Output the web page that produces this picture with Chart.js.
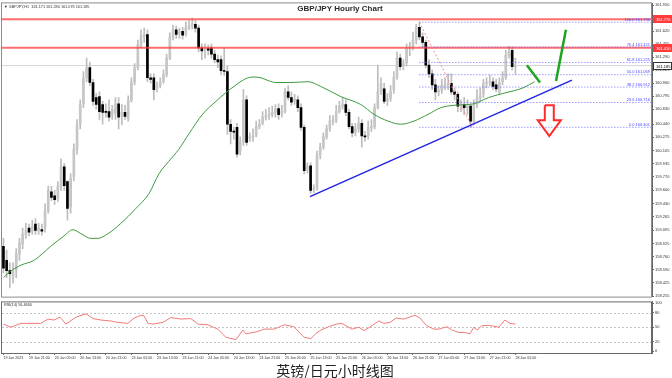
<!DOCTYPE html>
<html>
<head>
<meta charset="utf-8">
<script src="https://cdn.jsdelivr.net/npm/chart.js@4.4.0/dist/chart.umd.min.js"></script>
<style>
  body { margin:0; background:#fff; width:672px; height:378px; overflow:hidden; position:relative; }
  #mainBox { position:absolute; left:0; top:0; width:672px; height:300px; }
  #rsiBox { position:absolute; left:0; top:298px; width:672px; height:64px; }
  #caption { position:absolute; left:0; width:670px; top:360px; text-align:center; font:14px "Noto Sans CJK SC"; color:#222; }
</style>
</head>
<body>
<div id="mainBox"><canvas id="mainChart" width="672" height="300"></canvas></div>
<div id="rsiBox"><canvas id="rsiChart" width="672" height="64"></canvas></div>
<div id="caption">英镑/日元小时线图</div>
<script>
// hourly candles, one per bar index
const opens = [158.89,158.71,158.58,158.51,158.59,158.79,158.92,159.04,159.12,159.08,159.17,159.09,159.10,159.12,159.34,159.58,159.53,159.49,159.65,159.90,
  159.71,159.39,159.77,160.12,160.44,160.70,161.03,161.16,160.97,160.78,160.79,160.69,160.60,160.60,160.56,160.58,160.70,160.54,160.59,160.51,
  160.75,160.98,161.16,161.45,161.55,161.58,161.03,161.03,160.90,160.93,160.98,161.07,161.28,161.55,161.64,161.60,161.62,161.58,161.67,161.69,
  161.71,161.66,161.41,161.38,161.40,161.41,161.33,161.26,161.26,161.12,161.11,160.44,160.35,160.40,160.10,160.22,160.75,160.26,160.28,160.30,
  160.41,160.45,160.53,160.55,160.56,160.59,160.64,160.58,160.60,160.85,160.78,160.74,160.75,160.65,160.40,159.87,159.91,159.61,159.62,160.05,
  160.15,160.28,160.38,160.48,160.49,160.60,160.67,160.69,160.59,160.41,160.34,160.38,160.45,160.29,160.29,160.40,160.41,160.65,160.85,160.89,
  160.74,160.77,160.88,161.03,161.28,161.18,161.22,161.40,161.43,161.51,161.67,161.55,161.48,161.19,161.08,160.94,160.85,160.87,160.93,160.94,
  160.96,160.85,160.82,160.68,160.69,160.65,160.67,160.48,160.69,160.78,160.82,160.96,160.97,160.98,160.94,160.85,160.98,161.03,161.31,161.38,
  161.171];
const highs = [158.99,158.84,158.68,158.68,158.86,158.99,159.12,159.18,159.17,159.22,159.24,159.18,159.17,159.43,159.65,159.65,159.60,159.71,160.00,159.94,
  159.72,159.81,160.19,160.50,160.75,161.11,161.28,161.23,161.01,160.83,160.85,160.73,160.70,160.75,160.68,160.78,160.78,160.69,160.68,160.80,
  161.03,161.21,161.51,161.64,161.66,161.64,161.08,161.08,160.98,161.03,161.13,161.33,161.60,161.70,161.69,161.66,161.67,161.74,161.76,161.79,
  161.76,161.70,161.46,161.46,161.45,161.46,161.38,161.32,161.31,161.41,161.18,160.50,160.40,160.45,160.28,160.88,160.80,160.33,160.38,160.48,
  160.50,160.60,160.63,160.65,160.67,160.69,160.70,160.68,160.90,160.93,160.85,160.82,160.80,160.70,160.43,159.95,159.95,159.67,160.10,160.20,
  160.33,160.43,160.55,160.55,160.68,160.73,160.78,160.75,160.63,160.45,160.45,160.53,160.50,160.35,160.48,160.50,160.70,161.19,161.03,160.96,
  160.83,160.93,161.11,161.36,161.33,161.26,161.46,161.48,161.61,161.71,161.74,161.60,161.51,161.26,161.13,161.01,160.93,161.01,161.03,161.08,
  161.08,160.90,160.85,160.75,160.78,160.75,160.70,160.75,160.88,160.90,161.01,161.03,161.06,161.03,161.01,161.03,161.11,161.38,161.43,161.42,
  161.280];
const lows = [158.55,158.49,158.36,158.42,158.49,158.71,158.86,158.99,159.02,159.04,159.04,159.04,159.03,159.07,159.31,159.47,159.42,159.46,159.60,159.60,
  159.22,159.31,159.72,160.06,160.38,160.65,160.98,160.93,160.68,160.63,160.50,160.44,160.53,160.48,160.50,160.50,160.38,160.43,160.50,160.48,
  160.72,160.94,161.13,161.41,161.48,160.98,160.96,160.75,160.85,160.90,160.96,161.04,161.26,161.51,161.53,161.53,161.52,161.56,161.64,161.65,
  161.61,161.36,161.26,161.28,161.32,161.28,161.22,161.16,161.07,161.06,160.31,160.19,160.25,160.02,160.05,160.17,160.17,160.22,160.22,160.28,
  160.38,160.43,160.49,160.50,160.53,160.53,160.50,160.53,160.58,160.75,160.68,160.69,160.60,160.36,159.81,159.82,159.56,159.57,159.60,160.00,
  160.12,160.25,160.35,160.43,160.46,160.58,160.63,160.55,160.38,160.28,160.29,160.34,160.15,160.22,160.25,160.35,160.38,160.63,160.82,160.70,
  160.68,160.73,160.83,161.01,161.13,161.13,161.18,161.31,161.38,161.46,161.51,161.43,161.16,161.03,160.88,160.75,160.80,160.83,160.88,160.88,
  160.82,160.75,160.60,160.60,160.56,160.56,160.40,160.43,160.65,160.73,160.78,160.90,160.93,160.88,160.85,160.82,160.94,161.01,161.28,161.13,
  161.076];
const closes = [158.61,158.58,158.54,158.59,158.80,158.93,159.04,159.09,159.07,159.14,159.09,159.12,159.08,159.34,159.60,159.51,159.48,159.65,159.90,159.66,
  159.37,159.75,160.12,160.43,160.69,161.03,161.16,160.97,160.73,160.69,160.60,160.59,160.59,160.53,160.63,160.70,160.53,160.59,160.54,160.74,
  160.98,161.16,161.45,161.56,161.58,161.03,161.01,160.88,160.93,160.97,161.07,161.28,161.55,161.64,161.58,161.61,161.57,161.67,161.69,161.72,
  161.66,161.41,161.37,161.40,161.38,161.33,161.26,161.23,161.12,161.11,160.44,160.35,160.34,160.06,160.22,160.75,160.21,160.28,160.29,160.41,
  160.44,160.53,160.55,160.56,160.59,160.63,160.56,160.60,160.85,160.78,160.72,160.74,160.65,160.40,159.85,159.90,159.60,159.62,160.05,160.15,
  160.28,160.38,160.48,160.49,160.60,160.67,160.69,160.59,160.41,160.33,160.38,160.45,160.29,160.28,160.40,160.41,160.65,160.85,160.96,160.73,
  160.77,160.85,161.03,161.28,161.17,161.21,161.40,161.42,161.51,161.67,161.55,161.48,161.19,161.08,160.94,160.85,160.87,160.93,160.94,160.96,
  160.85,160.82,160.67,160.69,160.65,160.67,160.48,160.69,160.78,160.80,160.96,160.97,160.98,160.92,160.89,160.97,161.03,161.32,161.36,161.17,
  161.185];

// moving average read at these bar positions
const maIdx = [0,2.3,5.5,9.5,14.8,18.9,21.7,24.2,27.3,29.5,32.7,36.7,41.4,45.5,48.6,51.7,54.8,58,62.3,66.4,69.5,72.7,75.8,78,80.5,83,85.2,89.8,95.2,99.2,105.5,111.7,115.8,120.2,124.2,128.3,132.7,136.7,140.8,147,151.7,157,162.3,166];
const maVal = [158.49,158.575,158.65,158.71,158.89,159.02,159.10,159.05,158.99,158.99,159.05,159.18,159.37,159.56,159.81,159.97,160.12,160.32,160.57,160.73,160.84,160.94,161.02,161.04,161.03,160.99,160.97,160.97,160.98,160.92,160.79,160.69,160.565,160.48,160.44,160.48,160.565,160.65,160.68,160.70,160.78,160.84,160.90,160.98];

// RSI(14)
const rsiIdx = [0,2.3,5.5,8.6,11.7,13.9,15.8,17.7,19.5,22.7,25.8,28,30.5,33.6,35.8,38.9,40.8,43,43.9,45.2,46.7,49.8,52.3,55.5,58.6,60.8,63.9,67,69.5,72.7,74.8,75.8,79.5,81.4,84.5,86.1,87.7,90.8,93.9,96.1,97.7,99.2,102.3,104.2,105.8,108.9,111.1,112.7,114.5,117.3,118.9,120.8,122.7,125.2,128.6,130.2,132.3,134.5,136.1,138.6,140.2,142.3,144.2,145.8,147,148,149.5,151.7,154.8,156.7,158.3,160];
const rsiVal = [56.5,50,58,58,58,67,65,71,56.5,71,78,68,65,63,60,58,69,75,74,58,56.5,60,70,67,68,56.5,55,46,29,24,44,36,41,46,46,50,55,51,29,26,37,44,53,56.5,58,46,50,43,50,63,58,60,69,67,75,69,53,46,46,51,44,39,39,36,50,44,53,54,50,65,58,56.5];
const rsiTicks = [0,20,50,80,100];
const rsiLevels = [20,50,80];

const priceTicks = [161.950,161.785,161.620,161.455,161.290,161.125,160.960,160.795,160.630,160.440,160.275,160.105,159.935,159.770,159.600,159.430,159.265,159.095,158.925,158.760,158.590,158.425,158.255];
const xTickLabels = ["19 Jan 2023","19 Jan 21:00","20 Jan 05:00","20 Jan 13:00","20 Jan 21:00","23 Jan 05:00","23 Jan 13:00","23 Jan 21:00","24 Jan 05:00","24 Jan 13:00","24 Jan 21:00","25 Jan 05:00","25 Jan 13:00","25 Jan 21:00","26 Jan 05:00","26 Jan 13:00","26 Jan 21:00","27 Jan 05:00","27 Jan 13:00","27 Jan 21:00","28 Jan 05:00"];
const barsPerLabel = 8;

// drawn objects (bar index / price)
const redLevels = [161.775, 161.410];
const bidPrice = 161.185;
const fibNames = ["0.0","23.6","38.2","50.0","61.8","76.4","100.0"];
const fibPrices = [160.401,160.716,160.912,161.069,161.225,161.421,161.736];
const fibFrom = 130, fibTo = 146.5;
const trendIdx = [95.8, 177.7], trendVal = [159.52, 161.00];
const greenDownIdx = [163.6, 167.7], greenDownVal = [161.19, 160.97];
const greenUpIdx = [172.7, 175.8], greenUpVal = [160.99, 161.64];
const redArrowIdx = [169.2,172.0,172.0,174.2,170.6,167.0,169.2,169.2];
const redArrowVal = [160.68,160.68,160.49,160.49,160.29,160.49,160.49,160.68];

const xMin = -0.45, xMax = 202.7;

Chart.defaults.font.family = '"Liberation Sans", Arial, sans-serif';
Chart.defaults.animation = false;

function pts(xs, ys) { return xs.map((x, k) => ({x: x, y: ys[k]})); }
function seg(color, width, data, dash, order) {
  return { type: 'line', data: data, borderColor: color, borderWidth: width, borderDash: dash || [],
    pointRadius: 0, tension: 0, order: order || 2 };
}

const mainDecor = {
  id: 'mainDecor',
  afterDraw(chart) {
    const {ctx, chartArea: a, scales: {y}} = chart;
    ctx.save();
    ctx.strokeStyle = '#8c8c8c'; ctx.lineWidth = 1;
    ctx.strokeRect(a.left - 0.5, a.top - 0.5, a.right - a.left, a.bottom - a.top + 1);
    // fib labels
    ctx.font = '4px "Liberation Sans"'; ctx.fillStyle = '#4a4aff';
    ctx.textAlign = 'right'; ctx.textBaseline = 'bottom';
    fibPrices.forEach((p, k) => ctx.fillText(fibNames[k] + ' ' + p.toFixed(3), a.right - 2, y.getPixelForValue(p) - 0.5));
    // price boxes on the axis
    const box = (v, fill, stroke, txt) => {
      const py = Math.round(y.getPixelForValue(v));
      ctx.fillStyle = fill; ctx.fillRect(a.right + 1, py - 4, 19, 8);
      if (stroke) { ctx.strokeStyle = stroke; ctx.strokeRect(a.right + 1.5, py - 3.5, 18, 7); }
      ctx.fillStyle = txt; ctx.textAlign = 'left'; ctx.textBaseline = 'middle';
      ctx.font = '4px "Liberation Sans"';
      ctx.fillText(v.toFixed(3), a.right + 4, py + 0.5);
    };
    redLevels.forEach(v => box(v, '#ff3b3b', null, '#fff'));
    box(bidPrice, '#fff', '#333', '#000');
    // header texts
    ctx.fillStyle = '#333'; ctx.textAlign = 'left'; ctx.textBaseline = 'middle';
    ctx.font = '3.8px "Liberation Sans"';
    ctx.fillText('\u25BC GBPJPY,H1  161.171 161.280 161.076 ' + bidPrice.toFixed(3), a.left + 2, a.top + 4);
    ctx.font = 'bold 8px "Liberation Sans"'; ctx.textAlign = 'center'; ctx.fillStyle = '#2b2b2b';
    ctx.fillText('GBP/JPY Hourly Chart', 340, a.top + 5.5);
    ctx.restore();
  }
};

new Chart('mainChart', {
  data: {
    datasets: [
      { type: 'bar', data: highs.map((h, i) => ({x: i, y: [lows[i], h]})), backgroundColor: '#bdbdbd',
        barThickness: 1, grouped: false, order: 9 },
      { type: 'bar', data: opens.map((o, i) => ({x: i, y: [o, closes[i]]})), minBarLength: 1,
        backgroundColor: c => closes[c.dataIndex] >= opens[c.dataIndex] ? '#c6c6c6' : '#000',
        barThickness: 2, grouped: false, order: 8 },
      seg('#d6d6d6', 1, [{x: xMin, y: bidPrice}, {x: xMax, y: bidPrice}], null, 10),
      { type: 'line', data: pts(maIdx, maVal), borderColor: '#3d9b3d', borderWidth: 1, pointRadius: 0,
        cubicInterpolationMode: 'monotone', order: 7 },
      ...redLevels.map(v => seg('rgba(255,60,60,0.75)', 2, [{x: xMin, y: v}, {x: xMax, y: v}], null, 6)),
      ...fibPrices.map(p => seg('#6a6aff', 1, [{x: fibFrom, y: p}, {x: xMax, y: p}], [1, 2], 5)),
      seg('#ff8a8a', 1, [{x: fibFrom, y: fibPrices[6]}, {x: fibTo, y: fibPrices[0]}], [2, 2], 4),
      seg('#2323e6', 1.5, pts(trendIdx, trendVal), null, 3),
      seg('#1fa51f', 2.5, pts(greenDownIdx, greenDownVal), null, 2),
      seg('#1fa51f', 2.5, pts(greenUpIdx, greenUpVal), null, 2),
      seg('#ff2a2a', 2, pts(redArrowIdx, redArrowVal), null, 2)
    ]
  },
  options: {
    responsive: false,
    layout: { padding: { left: 2, top: 3, right: 0, bottom: 2 } },
    plugins: { legend: { display: false }, tooltip: { enabled: false } },
    scales: {
      x: { type: 'linear', display: false, offset: false, min: xMin, max: xMax, grid: { offset: false } },
      y: { position: 'right', min: 158.25, max: 161.975,
        afterBuildTicks: s => { s.ticks = priceTicks.map(v => ({value: v})); },
        afterFit: s => { s.width = 20; },
        ticks: { font: { size: 4 }, color: '#333', padding: 1, callback: v => v.toFixed(3) },
        grid: { drawOnChartArea: false, tickLength: 2, color: '#666' },
        border: { display: true, color: '#666' } }
    }
  },
  plugins: [mainDecor]
});

const rsiDecor = {
  id: 'rsiDecor',
  beforeDatasetsDraw(chart) {
    const {ctx, chartArea: a, scales: {y}} = chart;
    ctx.save();
    ctx.strokeStyle = '#c4c4c4'; ctx.lineWidth = 1; ctx.setLineDash([2, 2]);
    rsiLevels.forEach(v => {
      const py = Math.round(y.getPixelForValue(v)) + 0.5;
      ctx.beginPath(); ctx.moveTo(a.left, py); ctx.lineTo(a.right, py); ctx.stroke();
    });
    ctx.restore();
  },
  afterDraw(chart) {
    const {ctx, chartArea: a} = chart;
    ctx.save();
    ctx.strokeStyle = '#6a6a6a'; ctx.lineWidth = 1;
    ctx.strokeRect(a.left - 0.5, a.top + 0.5, a.right - a.left, a.bottom - a.top);
    ctx.fillStyle = '#333'; ctx.font = '3.8px "Liberation Sans"';
    ctx.textAlign = 'left'; ctx.textBaseline = 'middle';
    ctx.fillText('RSI(14) 56.4660', a.left + 2, a.top + 3.5);
    ctx.restore();
  }
};

new Chart('rsiChart', {
  type: 'line',
  data: {
    datasets: [{ data: pts(rsiIdx, rsiVal), borderColor: '#f27a7a', borderWidth: 1, pointRadius: 0, tension: 0 }]
  },
  options: {
    responsive: false,
    layout: { padding: { left: 2, top: 2, right: 0, bottom: 0 } },
    plugins: { legend: { display: false }, tooltip: { enabled: false } },
    scales: {
      x: { type: 'linear', min: xMin, max: xMax,
        afterBuildTicks: s => { s.ticks = xTickLabels.map((_, k) => ({value: k * barsPerLabel})); },
        afterFit: s => { s.height = 9; },
        ticks: { font: { size: 3.6 }, color: '#333', align: 'start', autoSkip: false, maxRotation: 0, minRotation: 0,
          padding: 1, callback: (v, k) => xTickLabels[k] },
        grid: { drawOnChartArea: false, tickLength: 2, color: '#666' },
        border: { display: true, color: '#666' } },
      y: { position: 'right', min: -4, max: 104,
        afterBuildTicks: s => { s.ticks = rsiTicks.map(v => ({value: v})); },
        afterFit: s => { s.width = 20; },
        ticks: { font: { size: 4 }, color: '#333', padding: 1 },
        grid: { drawOnChartArea: false, tickLength: 2, color: '#666' },
        border: { display: true, color: '#666' } }
    }
  },
  plugins: [rsiDecor]
});
</script>
</body>
</html>
